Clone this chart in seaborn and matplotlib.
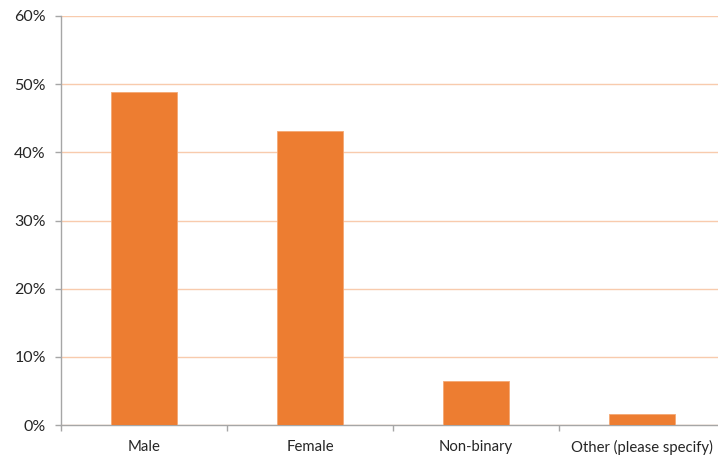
import matplotlib
matplotlib.use("Agg")
import matplotlib.pyplot as plt
import seaborn as sns
import pandas as pd
from matplotlib.ticker import FixedLocator, PercentFormatter

categories = ["Male", "Female", "Non-binary", "Other (please specify)"]
shares = [48.8, 43.1, 6.5, 1.6]
y_ticks = [0, 10, 20, 30, 40, 50, 60]

df = pd.DataFrame({"gender": categories, "share": shares})

sns.set_theme(style="white")
plt.rcParams["font.family"] = ["Lato", "DejaVu Sans"]

fig = plt.figure(figsize=(7.18, 4.57), dpi=100)
ax = fig.add_axes([0.085, 0.070, 0.925, 0.895])

sns.barplot(data=df, x="gender", y="share", color="#ED7D31", saturation=1,
            width=0.4, ax=ax, edgecolor="#F4A874", linewidth=0.6, zorder=3)

ax.set_ylim(0, 60)
ax.set_xlim(-0.5, len(categories) - 0.5)
ax.set_yticks(y_ticks)
ax.yaxis.set_major_formatter(PercentFormatter(decimals=0))
ax.yaxis.grid(True, color="#F8CBAD", linewidth=1.0, zorder=0)
ax.set_axisbelow(True)

ax.xaxis.set_minor_locator(FixedLocator([i - 0.5 for i in range(len(categories) + 1)]))
ax.tick_params(axis="x", which="major", length=0, pad=11, labelsize=10.7, labelcolor="#262626")
ax.tick_params(axis="x", which="minor", length=4, color="#A6A6A6", width=1, direction="out")
ax.tick_params(axis="y", which="major", length=4, color="#A6A6A6", width=1, direction="out",
               labelsize=11.5, labelcolor="#262626", pad=7)
ax.tick_params(bottom=True, left=True, which="both")

for side in ["top", "right"]:
    ax.spines[side].set_visible(False)
for side in ["left", "bottom"]:
    ax.spines[side].set_color("#A6A6A6")
    ax.spines[side].set_linewidth(1.0)

ax.set_xlabel("")
ax.set_ylabel("")

fig.savefig("out.png", dpi=100)
